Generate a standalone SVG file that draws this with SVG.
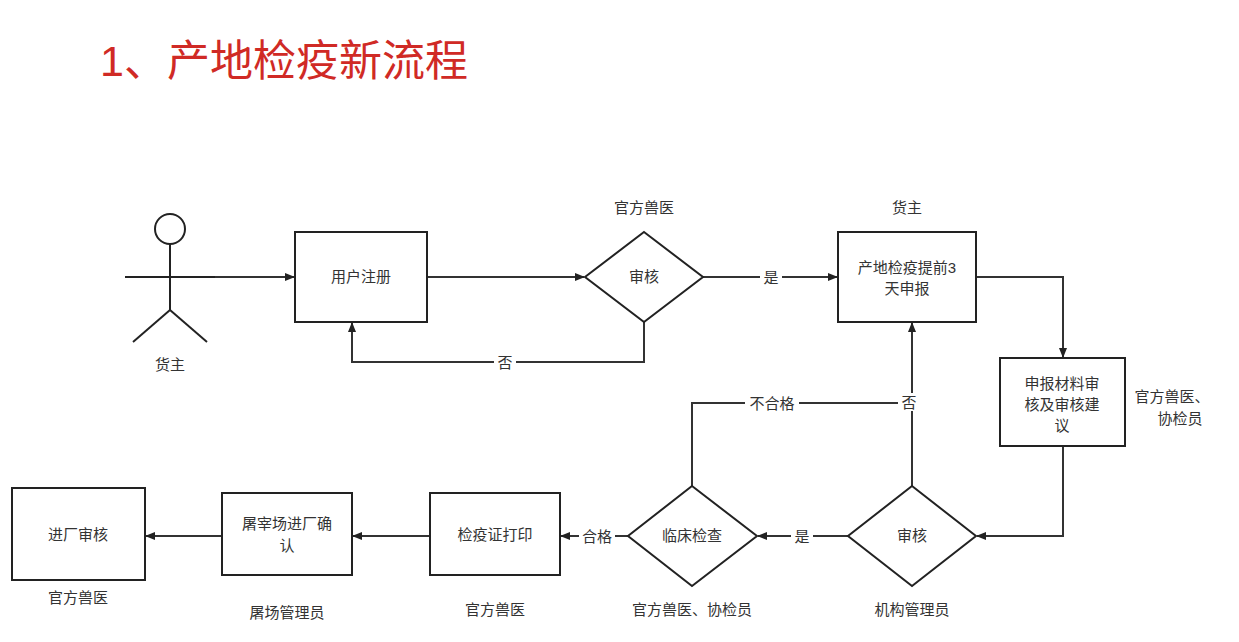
<svg xmlns="http://www.w3.org/2000/svg" width="1239" height="642" viewBox="0 0 1239 642">
<defs>
<marker id="ah" markerWidth="10" markerHeight="8" refX="9" refY="4" orient="auto" markerUnits="userSpaceOnUse"><path d="M0,0 L10,4 L0,8 Z" fill="#222"/></marker>
<style>
.n{fill:#fff;stroke:#222;stroke-width:2}
.c{fill:none;stroke:#333;stroke-width:2}
.t{font-family:"Liberation Sans","Noto Sans CJK SC",sans-serif;font-size:15px;fill:#333;text-anchor:middle}
.lb{font-family:"Liberation Sans","Noto Sans CJK SC",sans-serif;font-size:15px;fill:#333;text-anchor:middle}
.bg{fill:#fff}
</style>
</defs>
<rect width="1239" height="642" fill="#fff"/>
<text x="100" y="76" font-family="'Liberation Sans','Noto Sans CJK SC',sans-serif" font-size="43" fill="#d02a25">1、产地检疫新流程</text>
<g id="actor" fill="none" stroke="#222" stroke-width="2">
<circle cx="170" cy="229" r="15" fill="#fff"/>
<line x1="170" y1="244" x2="170" y2="310"/>
<line x1="125" y1="277" x2="215" y2="277"/>
<line x1="170" y1="310" x2="133" y2="342"/>
<line x1="170" y1="310" x2="207" y2="342"/>
</g>
<text class="t" x="170" y="370">货主</text>
<g id="connectors">
<path class="c" d="M215,277 H294" marker-end="url(#ah)"/>
<path class="c" d="M427,277 H584" marker-end="url(#ah)"/>
<path class="c" d="M703,277 H837" marker-end="url(#ah)"/>
<path class="c" d="M644,322 V362 H352 V323" marker-end="url(#ah)"/>
<path class="c" d="M976,277 H1063 V357" marker-end="url(#ah)"/>
<path class="c" d="M1063,446 V536 H977" marker-end="url(#ah)"/>
<path class="c" d="M912,486 V323" marker-end="url(#ah)"/>
<path class="c" d="M848,536 H758" marker-end="url(#ah)"/>
<path class="c" d="M692,486 V403 H908"/>
<path class="c" d="M628,536 H561" marker-end="url(#ah)"/>
<path class="c" d="M430,536 H353" marker-end="url(#ah)"/>
<path class="c" d="M222,536 H146" marker-end="url(#ah)"/>
<rect class="bg" x="760" y="268" width="22" height="18"/><text class="lb" x="771" y="283">是</text>
<rect class="bg" x="494" y="353" width="22" height="18"/><text class="lb" x="505" y="368">否</text>
<rect class="bg" x="898" y="393" width="22" height="18"/><text class="lb" x="909" y="408">否</text>
<rect class="bg" x="745" y="394" width="54" height="18"/><text class="lb" x="772" y="409">不合格</text>
<rect class="bg" x="791" y="527" width="22" height="18"/><text class="lb" x="802" y="542">是</text>
<rect class="bg" x="579" y="527" width="36" height="18"/><text class="lb" x="597" y="542">合格</text>
</g>
<g id="n1"><rect class="n" x="295" y="232" width="132" height="90"/><text class="t" x="361" y="282">用户注册</text></g>
<g id="n2"><path class="n" d="M644,232 L703,277 L644,322 L585,277 Z"/><text class="t" x="644" y="282">审核</text><text class="t" x="644" y="213">官方兽医</text></g>
<g id="n3"><rect class="n" x="838" y="232" width="138" height="90"/><text class="t" x="907" y="273">产地检疫提前3</text><text class="t" x="907" y="294">天申报</text><text class="t" x="907" y="213">货主</text></g>
<g id="n4"><rect class="n" x="1000" y="358" width="125" height="88"/><text class="t" x="1062" y="389">申报材料审</text><text class="t" x="1062" y="410">核及审核建</text><text class="t" x="1062" y="431">议</text><text class="t" x="1172" y="402">官方兽医、</text><text class="t" x="1180" y="424">协检员</text></g>
<g id="n5"><path class="n" d="M912,486 L976,536 L912,586 L848,536 Z"/><text class="t" x="912" y="541">审核</text><text class="t" x="912" y="615">机构管理员</text></g>
<g id="n6"><path class="n" d="M692,486 L757,536 L692,586 L628,536 Z"/><text class="t" x="692" y="541">临床检查</text><text class="t" x="692" y="615">官方兽医、协检员</text></g>
<g id="n7"><rect class="n" x="430" y="493" width="130" height="82"/><text class="t" x="495" y="540">检疫证打印</text><text class="t" x="495" y="615">官方兽医</text></g>
<g id="n8"><rect class="n" x="222" y="493" width="130" height="82"/><text class="t" x="287" y="529">屠宰场进厂确</text><text class="t" x="287" y="551">认</text><text class="t" x="287" y="618">屠场管理员</text></g>
<g id="n9"><rect class="n" x="12" y="488" width="133" height="92"/><text class="t" x="78" y="540">进厂审核</text><text class="t" x="78" y="603">官方兽医</text></g>
</svg>
